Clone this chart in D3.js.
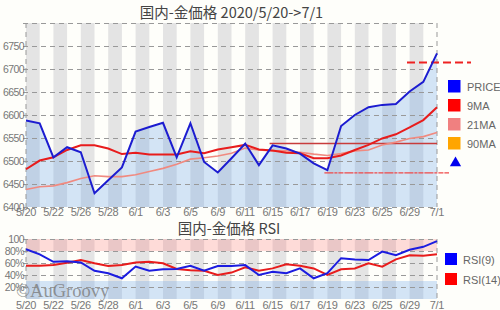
<!DOCTYPE html>
<html>
<head>
<meta charset="utf-8">
<script src="https://cdn.jsdelivr.net/npm/d3@7/dist/d3.min.js"></script>
<style>
body { margin: 0; background: #fefefa; }
svg { display: block; font-family: "Liberation Sans", Arial, sans-serif; }
</style>
</head>
<body>
<svg id="chart" width="500" height="310"></svg>
<script>
var dates = ["5/20","5/21","5/22","5/25","5/26","5/27","5/28","5/29","6/1","6/2","6/3","6/4","6/5","6/8","6/9","6/10","6/11","6/12","6/15","6/16","6/17","6/18","6/19","6/22","6/23","6/24","6/25","6/26","6/29","6/30","7/1"];
var price = [6588,6582,6508,6530,6519,6430,6458,6486,6564,6574,6583,6508,6582,6498,6475,6506,6538,6491,6534,6527,6516,6495,6480,6576,6600,6617,6622,6624,6651,6672,6734];
var ma9 = [6482,6501,6508,6524,6534,6534,6527,6515,6518,6514,6514,6514,6521,6517,6525,6530,6535,6525,6523,6518,6517,6506,6506,6512,6524,6535,6549,6558,6573,6589,6617];
var ma21 = [6438,6444,6446,6453,6462,6468,6466,6466,6470,6477,6484,6493,6504,6507,6511,6517,6528,6524,6522,6522,6519,6515,6512,6516,6522,6524,6535,6541,6549,6553,6562];
var rsi9 = [83,74.5,62,63,61,47,43,34.5,54,47,49.5,50,55.5,47,55,55,56.5,40,45.5,43,51,34.5,43,68,66,65,79,73,82,87,96.5];
var rsi14 = [55.5,55.5,56.5,60.5,65,59.5,55,56.5,61,62,59.5,50,48,47,40,44,53,47,51,58,55.5,51,40,49.5,51,59.5,54,66,73,72,74.5];
var xLabels = ["5/20","5/22","5/26","5/28","6/1","6/3","6/5","6/9","6/11","6/15","6/17","6/19","6/23","6/25","6/29","7/1"];
var priceTicks = [6400,6450,6500,6550,6600,6650,6700,6750,6800];
var rsiTicks = [20,40,60,80,100];
var rsiTickLabels = ["20%","40%","60%","80%","100"];
var levelLine = {value: 6538, from: "6/15"};
var targetLine = {value: 6714};
var supportLine = {value: 6474, from: "6/19"};
var legendMain = [
    {name: "PRICE", color: "#0000ff"},
    {name: "9MA", color: "#ff0000"},
    {name: "21MA", color: "#f08080"},
    {name: "90MA", color: "#ffa500"}
];
var legendRsi = [
    {name: "RSI(9)", color: "#0000ff"},
    {name: "RSI(14)", color: "#ff0000"}
];

var svg = d3.select("#chart");
var left = 26, right = 437;

var x = d3.scalePoint().domain(dates).range([left, right]);
var step = x.step();
var y = d3.scaleLinear().domain([6400, 6800]).range([207, 23]);
var yr = d3.scaleLinear().domain([0, 100]).range([299, 239]);

function drawBands(g, yScale, top, bottom) {
    g.append("g")
        .selectAll("rect")
        .data(dates.filter((d, i) => i % 2 == 0))
        .join("rect")
        .attr("x", d => x(d))
        .attr("width", d => Math.max(0, Math.min(step, right - x(d))))
        .attr("y", yScale(top))
        .attr("height", yScale(bottom) - yScale(top))
        .attr("fill", "#e4e4e4");
}

function drawGrid(g, yScale, ticks, labels, top, bottom) {
    var axis = d3.axisLeft(yScale)
        .tickValues(ticks)
        .tickSize(-(right - left) - 3)
        .tickFormat((d, i) => labels[i]);
    var ga = g.append("g")
        .attr("transform", "translate(" + (left - 3) + ",0)")
        .call(axis);
    ga.select(".domain").remove();
    ga.selectAll(".tick line")
        .attr("stroke", "#999")
        .attr("stroke-dasharray", "5,4");
    ga.selectAll(".tick text")
        .attr("x", 1)
        .attr("fill", "#777")
        .style("font-size", "10.5px")
        .style("letter-spacing", "-0.6px");
    g.append("line")
        .attr("x1", left).attr("x2", left)
        .attr("y1", yScale(top)).attr("y2", yScale(bottom))
        .attr("stroke", "#999")
        .attr("stroke-dasharray", "5,4");
    g.append("line")
        .attr("x1", right).attr("x2", right)
        .attr("y1", yScale(top)).attr("y2", yScale(bottom))
        .attr("stroke", "#999")
        .attr("stroke-dasharray", "5,4");
}

function drawXLabels(g, yPos) {
    g.append("g")
        .selectAll("text")
        .data(xLabels)
        .join("text")
        .attr("x", d => x(d))
        .attr("y", yPos)
        .attr("text-anchor", "middle")
        .attr("fill", "#777")
        .style("font-size", "11px")
        .style("letter-spacing", "-0.3px")
        .text(d => d);
}

// main price chart
var main = svg.append("g");
drawBands(main, y, 6800, 6400);

main.append("path")
    .datum(price)
    .attr("d", d3.area().x((d, i) => x(dates[i])).y0(y(6400)).y1(d => y(d)))
    .attr("fill", "#5a9be8")
    .attr("fill-opacity", 0.26);

var yLabels = priceTicks.map(d => d == 6800 ? "" : String(d));
drawGrid(main, y, priceTicks, yLabels, 6800, 6400);

main.append("line")
    .attr("x1", x(levelLine.from) - 3).attr("x2", right)
    .attr("y1", y(levelLine.value)).attr("y2", y(levelLine.value))
    .attr("stroke", "#c83c3c")
    .attr("stroke-width", 1.5);

main.append("line")
    .attr("x1", x(supportLine.from) - 3).attr("x2", 449)
    .attr("y1", y(supportLine.value)).attr("y2", y(supportLine.value))
    .attr("stroke", "#f04848")
    .attr("stroke-width", 1.3)
    .attr("stroke-dasharray", "9,1,3,1,5,1");

main.append("line")
    .attr("x1", 407).attr("x2", 471)
    .attr("y1", y(targetLine.value)).attr("y2", y(targetLine.value))
    .attr("stroke", "#ee2222")
    .attr("stroke-width", 2)
    .attr("stroke-dasharray", "8,4");

var line = d3.line().x((d, i) => x(dates[i])).y(d => y(d));

main.append("path").datum(ma21).attr("d", line)
    .attr("fill", "none").attr("stroke", "#f08a80").attr("stroke-width", 1.6);
main.append("path").datum(ma9).attr("d", line)
    .attr("fill", "none").attr("stroke", "#e81c1c").attr("stroke-width", 2);
main.append("path").datum(price).attr("d", line)
    .attr("fill", "none").attr("stroke", "#1c1cd0").attr("stroke-width", 2);

drawXLabels(main, 216);

main.append("text")
    .attr("x", (left + right) / 2)
    .attr("y", 18)
    .attr("text-anchor", "middle")
    .attr("fill", "#444")
    .style("font-family", "'Noto Sans CJK JP', sans-serif")
    .style("font-size", "14.5px")
    .text("国内-金価格 2020/5/20->7/1");

var lg = main.append("g")
    .selectAll("g")
    .data(legendMain)
    .join("g")
    .attr("transform", (d, i) => "translate(448," + (86 + i * 19) + ")");
lg.append("rect")
    .attr("x", 0).attr("y", -6)
    .attr("width", 12.5).attr("height", 12.5)
    .attr("fill", d => d.color);
lg.append("text")
    .attr("x", 19).attr("y", 4.5)
    .attr("fill", "#666")
    .style("font-size", "11px")
    .text(d => d.name);

main.append("path")
    .attr("d", d3.symbol().type(d3.symbolTriangle).size(55))
    .attr("transform", "translate(455.5,163)")
    .attr("fill", "#0000ee");

// RSI chart
var rsi = svg.append("g");
drawBands(rsi, yr, 100, 0);

rsi.append("rect")
    .attr("x", left).attr("width", right - left)
    .attr("y", yr(100)).attr("height", yr(80) - yr(100))
    .attr("fill", "#ff6060").attr("fill-opacity", 0.22);
rsi.append("rect")
    .attr("x", left).attr("width", right - left)
    .attr("y", yr(30)).attr("height", yr(0) - yr(30))
    .attr("fill", "#5a9be8").attr("fill-opacity", 0.26);

drawGrid(rsi, yr, rsiTicks, rsiTickLabels, 100, 0);

var rline = d3.line().x((d, i) => x(dates[i])).y(d => yr(d));
rsi.append("path").datum(rsi14).attr("d", rline)
    .attr("fill", "none").attr("stroke", "#e81c1c").attr("stroke-width", 2);
rsi.append("path").datum(rsi9).attr("d", rline)
    .attr("fill", "none").attr("stroke", "#1c1ce0").attr("stroke-width", 2);

drawXLabels(rsi, 309);

rsi.append("text")
    .attr("x", 229)
    .attr("y", 234)
    .attr("text-anchor", "middle")
    .attr("fill", "#444")
    .style("font-family", "'Noto Sans CJK JP', sans-serif")
    .style("font-size", "14.5px")
    .text("国内-金価格 RSI");

var lr = rsi.append("g")
    .selectAll("g")
    .data(legendRsi)
    .join("g")
    .attr("transform", (d, i) => "translate(445," + (259 + i * 20) + ")");
lr.append("rect")
    .attr("x", 0).attr("y", -6)
    .attr("width", 12).attr("height", 12)
    .attr("fill", d => d.color);
lr.append("text")
    .attr("x", 18).attr("y", 4.5)
    .attr("fill", "#666")
    .style("font-size", "11px")
    .text(d => d.name);

rsi.append("text")
    .attr("x", 16)
    .attr("y", 297)
    .attr("fill", "#777")
    .attr("fill-opacity", 0.75)
    .style("font-family", "'Liberation Serif', 'DejaVu Serif', serif")
    .style("font-size", "18.5px")
    .text("©AuGroovy");
</script>
</body>
</html>
